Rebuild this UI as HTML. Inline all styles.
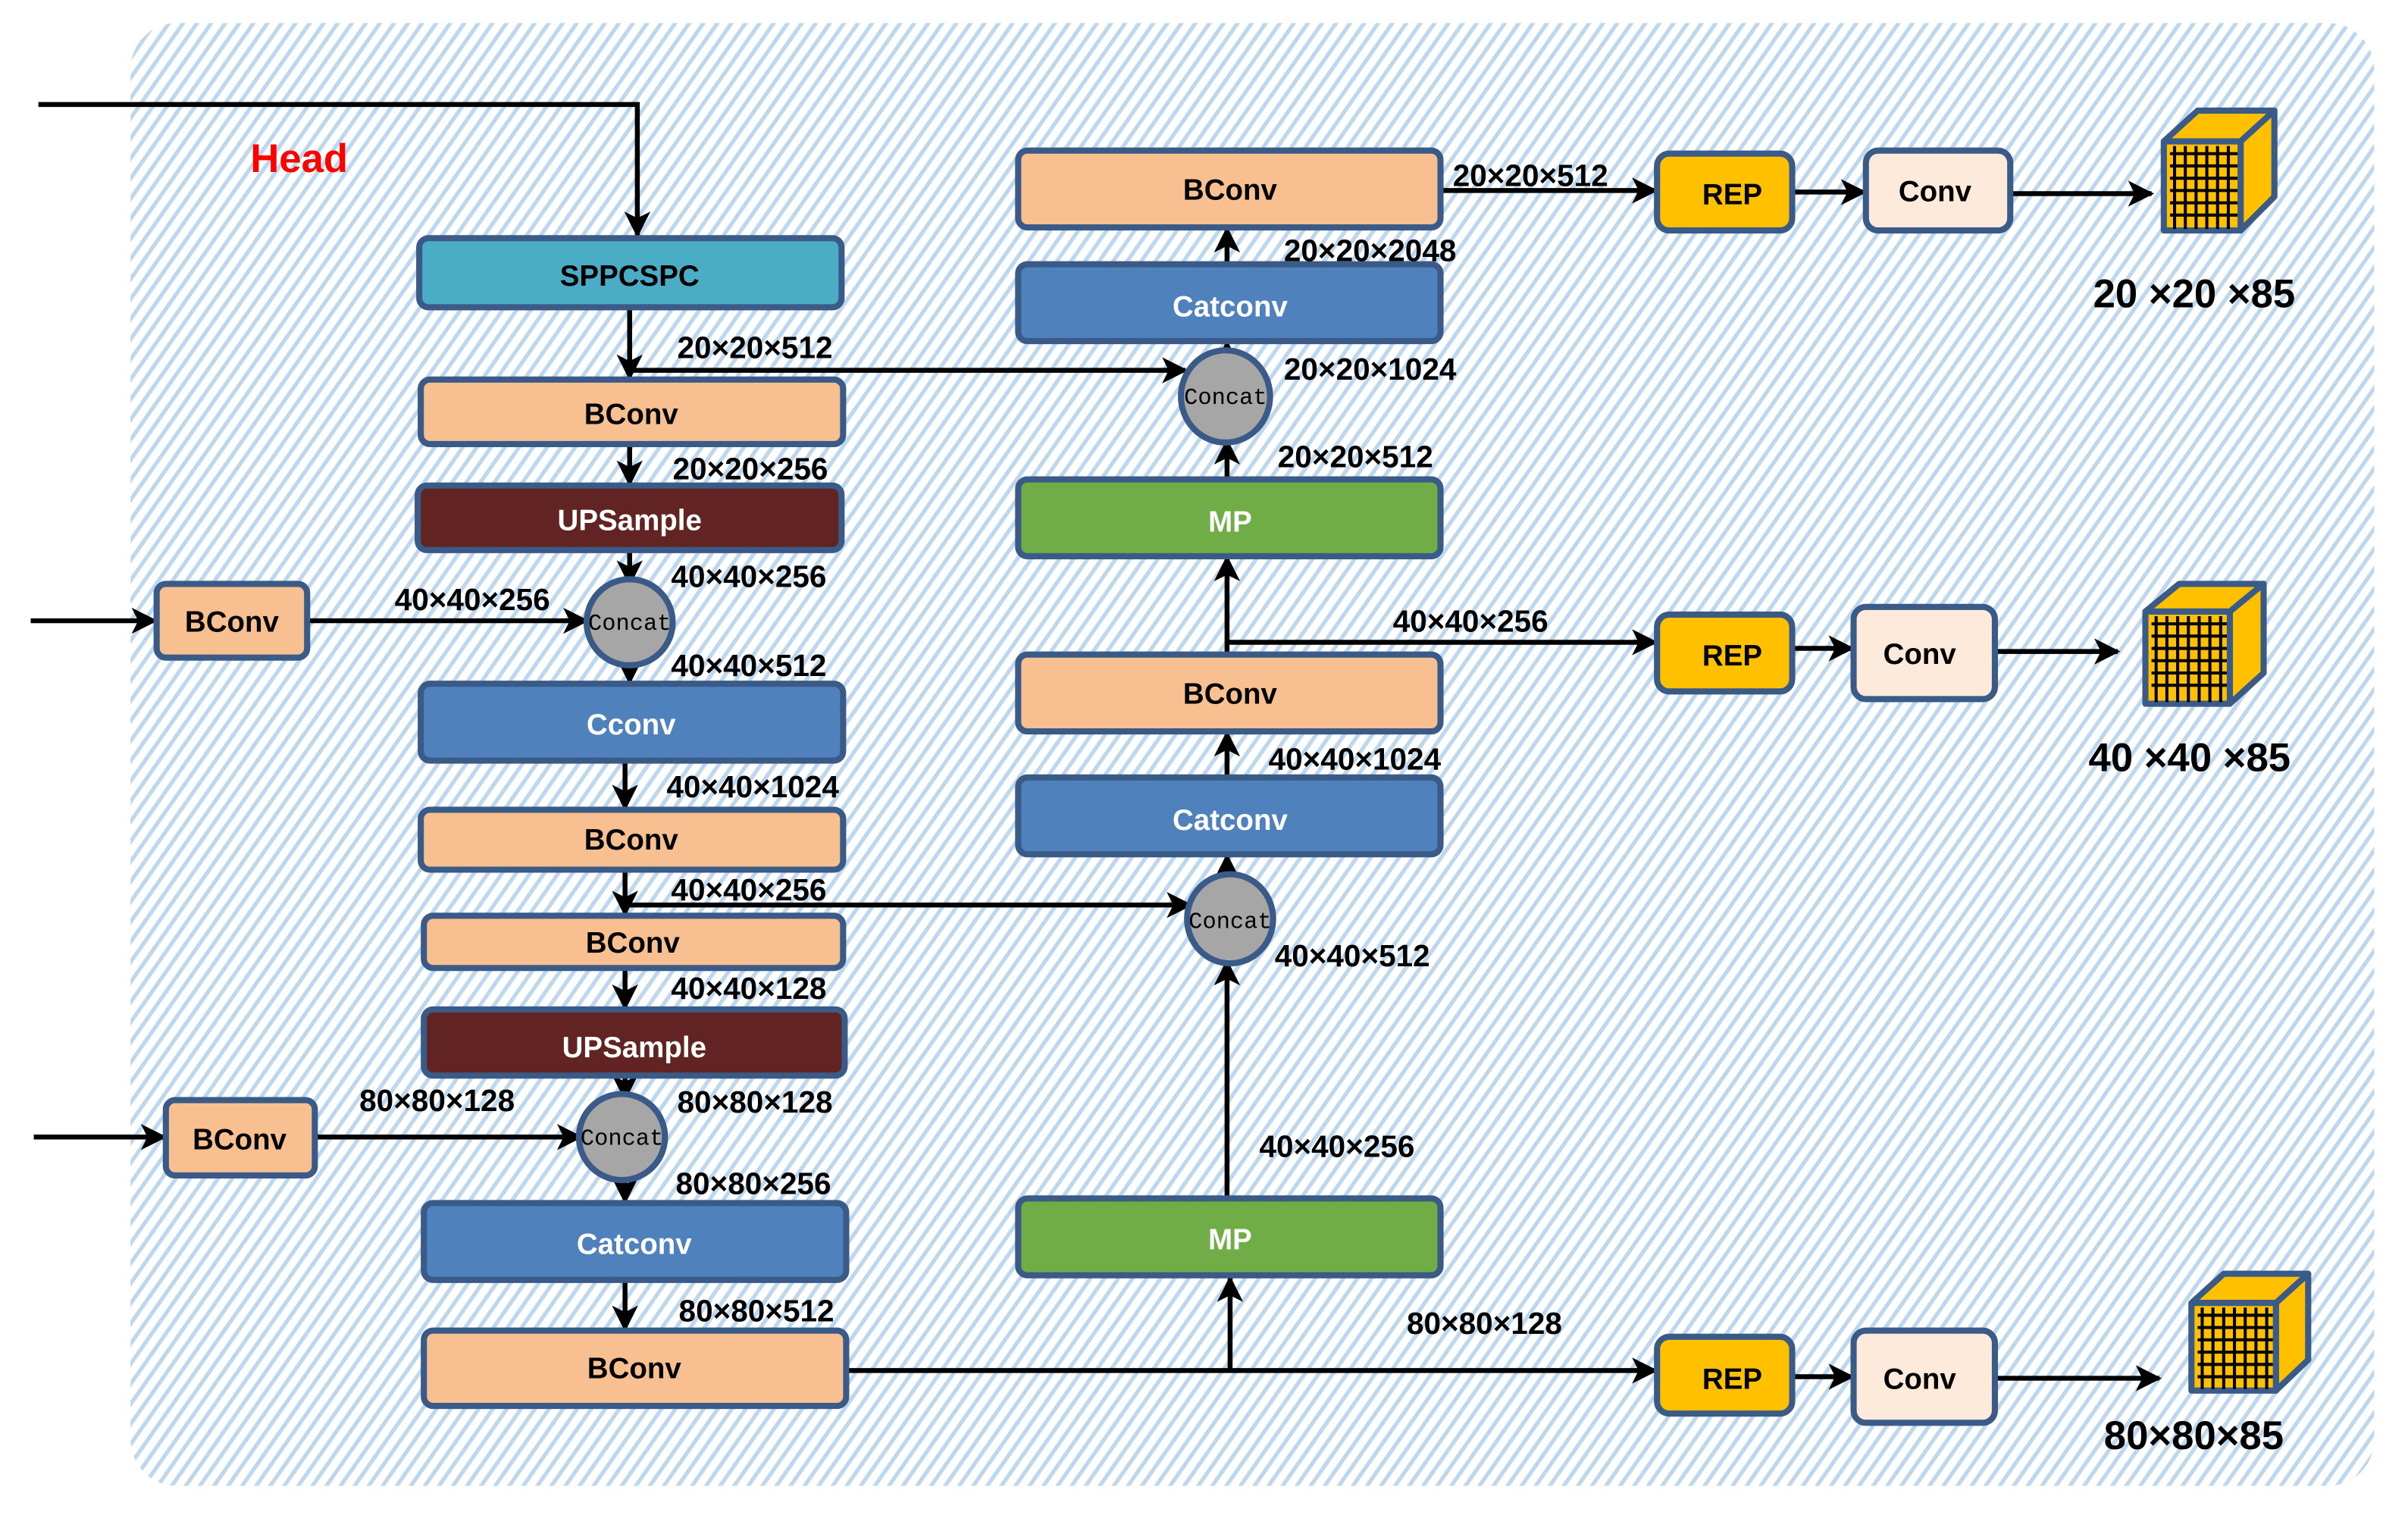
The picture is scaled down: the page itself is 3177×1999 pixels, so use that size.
<!DOCTYPE html>
<html><head><meta charset="utf-8"><style>
html,body{margin:0;padding:0;background:#fff;}
svg{display:block;}
text{font-family:"Liberation Sans",sans-serif;font-weight:bold;}
</style></head><body>
<svg width="3177" height="1999" viewBox="0 0 1568 986" preserveAspectRatio="none" xmlns="http://www.w3.org/2000/svg">
<defs>
<pattern id="hatch" patternUnits="userSpaceOnUse" width="7.5" height="8" patternTransform="rotate(35)">
<rect width="8" height="8" fill="#fff"/>
<rect x="0" y="0" width="2.6" height="8" fill="#bdd7ee"/>
</pattern>
<marker id="ahs" viewBox="0 0 10 10" markerWidth="17" markerHeight="17" refX="9" refY="5" orient="auto" markerUnits="userSpaceOnUse">
<path d="M0,0 L10,5 L0,10 L2.5,5 z" fill="#000"/>
</marker>
</defs>
<rect x="85" y="15" width="1461" height="952" rx="30" fill="url(#hatch)"/>

<g fill="none" stroke="#000" stroke-width="3.2" marker-end="url(#ahs)">
<polyline points="25,68 415,68 415,153"/>
<line x1="410" y1="200" x2="410" y2="246"/>
<line x1="410" y1="241" x2="772" y2="241"/>
<line x1="410" y1="289" x2="410" y2="315"/>
<line x1="410" y1="358" x2="410" y2="380"/>
<line x1="20" y1="404" x2="101" y2="404"/>
<line x1="200" y1="404" x2="382" y2="404"/>
<line x1="410" y1="433" x2="410" y2="444"/>
<line x1="407" y1="495" x2="407" y2="526"/>
<line x1="407" y1="566" x2="407" y2="595"/>
<line x1="407" y1="589" x2="775" y2="589"/>
<line x1="407" y1="630" x2="407" y2="656"/>
<line x1="407" y1="700" x2="407" y2="715"/>
<line x1="22" y1="740" x2="107" y2="740"/>
<line x1="205" y1="740" x2="378" y2="740"/>
<line x1="407" y1="767" x2="407" y2="782"/>
<line x1="407" y1="833" x2="407" y2="865"/>
<line x1="551" y1="892" x2="1078" y2="892"/>
<line x1="801" y1="892" x2="801" y2="832"/>
<line x1="799" y1="780" x2="799" y2="626"/>
<line x1="799" y1="570" x2="799" y2="557"/>
<line x1="799" y1="506" x2="799" y2="477"/>
<line x1="799" y1="426" x2="799" y2="363"/>
<line x1="799" y1="418" x2="1078" y2="418"/>
<line x1="799" y1="312" x2="799" y2="287"/>
<line x1="799" y1="228" x2="799" y2="223"/>
<line x1="799" y1="172" x2="799" y2="149"/>
<line x1="938" y1="124" x2="1078" y2="124"/>
<line x1="1167" y1="125" x2="1214" y2="125"/>
<line x1="1309" y1="126" x2="1401" y2="126"/>
<line x1="1167" y1="422" x2="1206" y2="422"/>
<line x1="1299" y1="424" x2="1379" y2="424"/>
<line x1="1167" y1="896" x2="1206" y2="896"/>
<line x1="1299" y1="897" x2="1406" y2="897"/>
</g>

<text x="163" y="112" fill="#ff0000" font-size="26">Head</text>

<g stroke="#3a5a87" stroke-width="4">
<rect x="273" y="155" width="275" height="45" rx="6" fill="#4bacc6"/>
<rect x="274" y="247" width="275" height="42" rx="6" fill="#f8c090"/>
<rect x="272" y="316" width="276" height="42" rx="6" fill="#622423"/>
<rect x="102" y="380" width="98" height="48" rx="6" fill="#f8c090"/>
<rect x="274" y="445" width="275" height="50" rx="6" fill="#4f81bd"/>
<rect x="274" y="527" width="275" height="39" rx="6" fill="#f8c090"/>
<rect x="276" y="596" width="273" height="34" rx="6" fill="#f8c090"/>
<rect x="276" y="657" width="274" height="43" rx="6" fill="#622423"/>
<rect x="108" y="716" width="97" height="49" rx="6" fill="#f8c090"/>
<rect x="276" y="783" width="275" height="50" rx="6" fill="#4f81bd"/>
<rect x="276" y="866" width="275" height="49" rx="6" fill="#f8c090"/>
<rect x="663" y="780" width="275" height="50" rx="6" fill="#70ad47"/>
<rect x="663" y="506" width="275" height="50" rx="6" fill="#4f81bd"/>
<rect x="663" y="426" width="275" height="50" rx="6" fill="#f8c090"/>
<rect x="663" y="312" width="275" height="50" rx="6" fill="#70ad47"/>
<rect x="663" y="172" width="275" height="50" rx="6" fill="#4f81bd"/>
<rect x="663" y="98" width="275" height="50" rx="6" fill="#f8c090"/>
<rect x="1079" y="100" width="88" height="50" rx="8" fill="#ffc000"/>
<rect x="1215" y="98" width="94" height="52" rx="8" fill="#fdeada"/>
<rect x="1079" y="400" width="88" height="50" rx="8" fill="#ffc000"/>
<rect x="1207" y="395" width="92" height="60" rx="8" fill="#fdeada"/>
<rect x="1079" y="870" width="88" height="50" rx="8" fill="#ffc000"/>
<rect x="1207" y="866" width="92" height="60" rx="8" fill="#fdeada"/>
<circle cx="410" cy="405" r="28" fill="#a6a6a6"/>
<circle cx="405" cy="740" r="28" fill="#a6a6a6"/>
<ellipse cx="798" cy="258" rx="29" ry="30" fill="#a6a6a6"/>
<ellipse cx="801" cy="598" rx="28" ry="29" fill="#a6a6a6"/>
</g>

<g font-size="19" text-anchor="middle">
<text x="410" y="186">SPPCSPC</text>
<text x="411" y="276">BConv</text>
<text x="410" y="345" fill="#fff">UPSample</text>
<text x="151" y="411">BConv</text>
<text x="411" y="478" fill="#fff">Cconv</text>
<text x="411" y="553">BConv</text>
<text x="412" y="620">BConv</text>
<text x="413" y="688" fill="#fff">UPSample</text>
<text x="156" y="748">BConv</text>
<text x="413" y="816" fill="#fff">Catconv</text>
<text x="413" y="897">BConv</text>
<text x="801" y="813" fill="#fff">MP</text>
<text x="801" y="540" fill="#fff">Catconv</text>
<text x="801" y="458" fill="#000">BConv</text>
<text x="801" y="346" fill="#fff">MP</text>
<text x="801" y="206" fill="#fff">Catconv</text>
<text x="801" y="130">BConv</text>
<text x="1128" y="133">REP</text>
<text x="1260" y="131">Conv</text>
<text x="1128" y="433">REP</text>
<text x="1250" y="432">Conv</text>
<text x="1128" y="904">REP</text>
<text x="1250" y="904">Conv</text>
</g>
<g font-size="15" text-anchor="middle" style="font-family:'Liberation Mono',monospace">
<text x="410" y="410" style="font-family:'Liberation Mono',monospace;font-weight:normal">Concat</text>
<text x="405" y="745" style="font-family:'Liberation Mono',monospace;font-weight:normal">Concat</text>
<text x="798" y="263" style="font-family:'Liberation Mono',monospace;font-weight:normal">Concat</text>
<text x="801" y="604" style="font-family:'Liberation Mono',monospace;font-weight:normal">Concat</text>
</g>

<g font-size="20">
<text x="441" y="233">20×20×512</text>
<text x="438" y="312">20×20×256</text>
<text x="437" y="382">40×40×256</text>
<text x="257" y="397">40×40×256</text>
<text x="437" y="440">40×40×512</text>
<text x="434" y="519">40×40×1024</text>
<text x="437" y="586">40×40×256</text>
<text x="437" y="650">40×40×128</text>
<text x="234" y="723">80×80×128</text>
<text x="441" y="724">80×80×128</text>
<text x="440" y="777">80×80×256</text>
<text x="442" y="860">80×80×512</text>
<text x="916" y="868">80×80×128</text>
<text x="820" y="753">40×40×256</text>
<text x="830" y="629">40×40×512</text>
<text x="826" y="501">40×40×1024</text>
<text x="907" y="411">40×40×256</text>
<text x="832" y="304">20×20×512</text>
<text x="836" y="247">20×20×1024</text>
<text x="836" y="170">20×20×2048</text>
<text x="946" y="121">20×20×512</text>
</g>
<g font-size="26">
<text x="1363" y="200">20 ×20 ×85</text>
<text x="1360" y="502">40 ×40 ×85</text>
<text x="1370" y="943">80×80×85</text>
</g>

<g stroke="#3a5a87" stroke-width="4" stroke-linejoin="round">
<polygon points="1409,92 1431,72 1481,72 1459,92" fill="#ffc000"/>
<polygon points="1459,92 1481,72 1481,128 1459,150" fill="#ffc000"/>
<rect x="1409" y="92" width="50" height="58" fill="#ffc000"/>
<g stroke="#000" stroke-width="2">
<path d="M1413,100H1457M1413,108H1457M1413,116H1457M1413,124H1457M1413,132H1457M1413,140H1457M1416,95V149M1423,95V149M1430,95V149M1437,95V149M1444,95V149M1451,95V149"/>
</g>
</g>
<g stroke="#3a5a87" stroke-width="4" stroke-linejoin="round">
<polygon points="1397,398 1419,380 1474,380 1452,398" fill="#ffc000"/>
<polygon points="1452,398 1474,380 1474,438 1452,458" fill="#ffc000"/>
<rect x="1397" y="398" width="55" height="60" fill="#ffc000"/>
<g stroke="#000" stroke-width="2">
<path d="M1401,406H1450M1401,414H1450M1401,422H1450M1401,430H1450M1401,438H1450M1401,446H1450M1404,401V457M1411,401V457M1418,401V457M1425,401V457M1432,401V457M1439,401V457M1446,401V457"/>
</g>
</g>
<g stroke="#3a5a87" stroke-width="4" stroke-linejoin="round">
<polygon points="1427,848 1448,829 1503,829 1482,848" fill="#ffc000"/>
<polygon points="1482,848 1503,829 1503,885 1482,905" fill="#ffc000"/>
<rect x="1427" y="848" width="55" height="57" fill="#ffc000"/>
<g stroke="#000" stroke-width="2">
<path d="M1431,856H1480M1431,864H1480M1431,872H1480M1431,880H1480M1431,888H1480M1431,896H1480M1434,851V904M1441,851V904M1448,851V904M1455,851V904M1462,851V904M1469,851V904M1476,851V904"/>
</g>
</g>
</svg>
</body></html>
